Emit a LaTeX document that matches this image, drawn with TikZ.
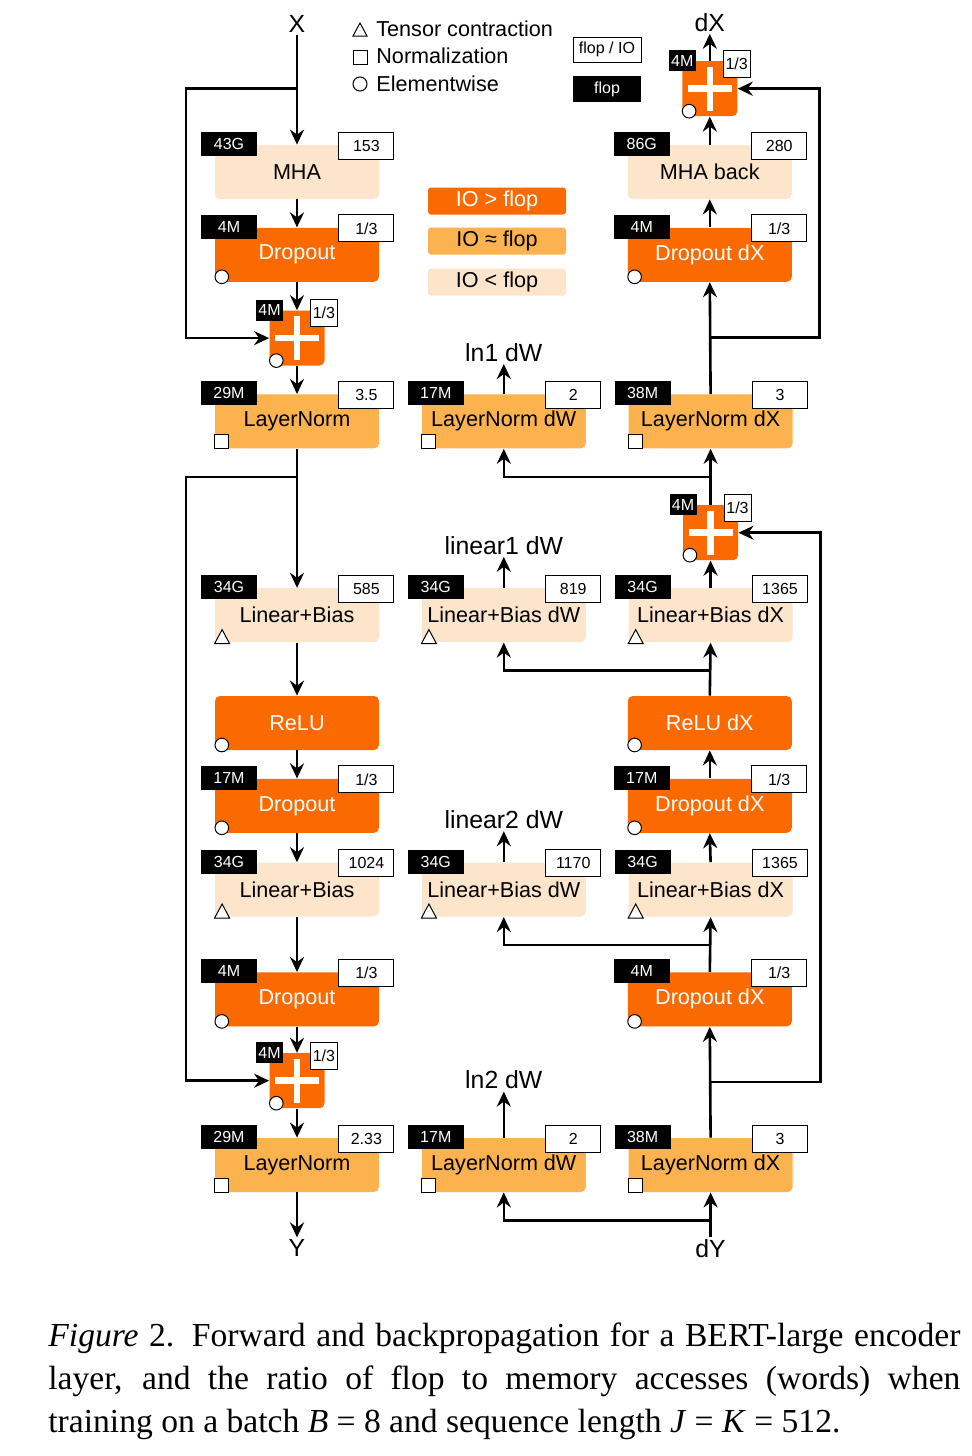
\documentclass[tikz,border=0pt]{standalone}
\usepackage{fontspec}
\setmainfont{Liberation Serif}
\setsansfont{Liberation Sans}
\usetikzlibrary{positioning,arrows.meta}

\definecolor{iohigh}{RGB}{250,106,0}
\definecolor{iomid}{RGB}{253,178,80}
\definecolor{iolow}{RGB}{253,229,204}

\tikzset{
  opbox/.style={minimum width=82pt, minimum height=27pt, inner sep=0pt,
    rounded corners=2.5pt, font=\sffamily\fontsize{10.8}{13}\selectfont},
  hiop/.style={opbox, fill=iohigh, text=white},
  midop/.style={opbox, fill=iomid},
  lowop/.style={opbox, fill=iolow},
  addbox/.style={fill=iohigh, minimum size=27.5pt, inner sep=0pt, rounded corners=2.5pt,
    path picture={
      \draw[white, line width=3.25pt]
        ([xshift=-11pt]path picture bounding box.center) -- ([xshift=11pt]path picture bounding box.center)
        ([yshift=-11pt]path picture bounding box.center) -- ([yshift=11pt]path picture bounding box.center);}},
  flopbox/.style={fill=black, text=white, minimum width=28pt, minimum height=12pt,
    inner sep=0pt, font=\sffamily\fontsize{8}{9}\selectfont},
  ratiobox/.style={draw=black, line width=0.5pt, fill=white, minimum width=27.5pt,
    minimum height=13.5pt, inner sep=0pt, font=\sffamily\fontsize{8}{9}\selectfont},
  head/.style={inner sep=1pt, font=\sffamily\fontsize{12.4}{14}\selectfont},
  legend/.style={inner sep=0pt, font=\sffamily\fontsize{10.8}{13}\selectfont},
  flow/.style={line width=1.3pt, -{Stealth[length=7.5pt, width=7pt, inset=2.5pt]}},
  marker/.style={draw=black, fill=white, line width=0.5pt},
}

% cost labels: flop (black) and flop/IO (white)
\newcommand{\cost}[3]{%
  \node[flopbox, anchor=north west] (#1f) at ([shift={(-7pt,6.5pt)}]#1.north west) {#2};
  \node[ratiobox, anchor=north east] (#1r) at ([shift={(7.5pt,6.5pt)}]#1.north east) {#3};}
\newcommand{\addcost}[1]{%
  \node[flopbox, minimum width=13.5pt, minimum height=10.5pt, anchor=north west] (#1f)
    at ([shift={(-6.75pt,5.5pt)}]#1.north west) {4M};
  \node[ratiobox, minimum width=13.5pt, minimum height=13.5pt, anchor=north east] (#1r)
    at ([shift={(6.5pt,5.5pt)}]#1.north east) {1/3};}
% operator class markers
\newcommand{\elemmark}[1]{\draw[marker] ([shift={(3.6pt,2.7pt)}]#1.south west) circle (3.4pt);}
\newcommand{\normmark}[1]{\draw[marker] (#1.south west) rectangle ++(7pt,7pt);}
\newcommand{\tensmark}[1]{\draw[marker] ([yshift=-0.5pt]#1.south west) -- ++(7.5pt,0pt) -- ++(-3.75pt,7pt) -- cycle;}

\begin{document}
\begin{tikzpicture}[x=0.5pt, y=-0.5pt]
  \useasboundingbox (0,0) rectangle (971,1456);

  % legend
  \node[legend, anchor=base west] (lgten) at (376,36) {Tensor contraction};
  \node[legend, anchor=base west] (lgnorm) at (376,63) {Normalization};
  \node[legend, anchor=base west] (lgelem) at (376,91) {Elementwise};
  \draw[marker] (353,36) -- (367,36) -- (360,23) -- cycle;
  \draw[marker] (353,50) rectangle (367,64);
  \draw[marker] (360,84) circle (3.5pt);
  \node[ratiobox, minimum width=34pt, minimum height=12.5pt] (lgratio) at (607,49.5) {flop / IO};
  \node[flopbox, minimum width=34pt, minimum height=13pt] (lgflop) at (607,89) {flop};
  \node[hiop, minimum width=69pt, minimum height=13.5pt, rounded corners=1.5pt] (lghi) at (497,201) {IO > flop};
  \node[midop, minimum width=69pt, minimum height=13.5pt, rounded corners=1.5pt] (lgmid) at (497,241) {IO ≈ flop};
  \node[lowop, minimum width=69pt, minimum height=13.5pt, rounded corners=1.5pt] (lglow) at (497,282) {IO < flop};

  % forward column
  \node[lowop] (mha) at (297,172) {MHA};
  \node[hiop, below=14pt of mha] (dropA) {Dropout};
  \node[addbox, below=14pt of dropA] (addA) {};
  \node[midop, below=14pt of addA] (lnA) {LayerNorm};
  \node[lowop, below=69.5pt of lnA] (linA) {Linear+Bias};
  \node[hiop, below=26.5pt of linA] (relu) {ReLU};
  \node[hiop, below=14pt of relu] (dropB) {Dropout};
  \node[lowop, below=14.5pt of dropB] (linB) {Linear+Bias};
  \node[hiop, below=27.5pt of linB] (dropC) {Dropout};
  \node[addbox, below=13pt of dropC] (addB) {};
  \node[midop, below=14.5pt of addB] (lnB) {LayerNorm};

  % weight gradients
  \node[midop, right=21pt of lnA] (lnM1) {LayerNorm dW};
  \node[lowop, right=21pt of linA] (linM1) {Linear+Bias dW};
  \node[lowop, right=21pt of linB] (linM2) {Linear+Bias dW};
  \node[midop, right=21pt of lnB] (lnM2) {LayerNorm dW};

  % backward column
  \node[lowop, right=124pt of mha] (mhab) {MHA back};
  \node[hiop, right=124pt of dropA] (dropR1) {Dropout dX};
  \node[midop, right=21pt of lnM1] (lnR1) {LayerNorm dX};
  \node[lowop, right=21pt of linM1] (linR1) {Linear+Bias dX};
  \node[hiop, right=124pt of relu] (reluR) {ReLU dX};
  \node[hiop, right=124pt of dropB] (dropR2) {Dropout dX};
  \node[lowop, right=21pt of linM2] (linR2) {Linear+Bias dX};
  \node[hiop, right=124pt of dropC] (dropR3) {Dropout dX};
  \node[midop, right=21pt of lnM2] (lnR2) {LayerNorm dX};
  \node[addbox, above=14pt of mhab] (addR1) {};
  \node[addbox, below=28pt of lnR1] (addR2) {};

  % inputs and outputs
  \node[head, above=55pt of mha] (xin) {X};
  \node[head, above=13.5pt of addR1] (dxout) {dX};
  \node[head, below=22.5pt of lnB] (yout) {Y};
  \node[head, below=22.5pt of lnR2] (dyin) {dY};
  \node[head, above=15pt of lnM1] (ln1w) {ln1 dW};
  \node[head, above=15.5pt of linM1] (lin1w) {linear1 dW};
  \node[head, above=15.5pt of linM2] (lin2w) {linear2 dW};
  \node[head, above=23pt of lnM2] (ln2w) {ln2 dW};

  % costs
  \cost{mha}{43G}{153}
  \cost{dropA}{4M}{1/3}
  \addcost{addA}
  \cost{lnA}{29M}{3.5}
  \cost{linA}{34G}{585}
  \cost{dropB}{17M}{1/3}
  \cost{linB}{34G}{1024}
  \cost{dropC}{4M}{1/3}
  \addcost{addB}
  \cost{lnB}{29M}{2.33}
  \cost{lnM1}{17M}{2}
  \cost{linM1}{34G}{819}
  \cost{linM2}{34G}{1170}
  \cost{lnM2}{17M}{2}
  \addcost{addR1}
  \cost{mhab}{86G}{280}
  \cost{dropR1}{4M}{1/3}
  \cost{lnR1}{38M}{3}
  \addcost{addR2}
  \cost{linR1}{34G}{1365}
  \cost{dropR2}{17M}{1/3}
  \cost{linR2}{34G}{1365}
  \cost{dropR3}{4M}{1/3}
  \cost{lnR2}{38M}{3}

  % markers
  \foreach \n in {dropA,addA,relu,dropB,dropC,addB,addR1,dropR1,addR2,reluR,dropR2,dropR3}
    {\elemmark{\n}}
  \foreach \n in {lnA,lnB,lnM1,lnM2,lnR1,lnR2}
    {\normmark{\n}}
  \foreach \n in {linA,linB,linM1,linM2,linR1,linR2}
    {\tensmark{\n}}

  % forward flow
  \foreach \a/\b in {xin/mha, mha/dropA, dropA/addA, addA/lnA, lnA/linA, linA/relu,
      relu/dropB, dropB/linB, linB/dropC, dropC/addB, addB/lnB, lnB/yout}
    \draw[flow] (\a.south) -- (\b.north);
  % backward flow
  \foreach \a/\b in {dyin/lnR2, lnR2/dropR3, dropR3/linR2, linR2/dropR2, dropR2/reluR,
      reluR/linR1, linR1/addR2, addR2/lnR1, lnR1/dropR1, dropR1/mhab, mhab/addR1,
      addR1/dxout, lnM1/ln1w, linM1/lin1w, linM2/lin2w, lnM2/ln2w}
    \draw[flow] (\a.north) -- (\b.south);

  % residual branches
  \coordinate (brA) at ([yshift=28pt]mha.north);
  \coordinate (brB) at ([yshift=-14pt]lnA.south);
  \coordinate (brC) at ([yshift=-27.5pt]dropR1.south);
  \coordinate (brD) at ([yshift=-27.5pt]dropR3.south);
  \draw[flow] (brA) -| ([xshift=-41.5pt]addA.west) -- (addA.west);
  \draw[flow] (brB) -| ([xshift=-41.5pt]addB.west) -- (addB.west);
  \draw[flow] (brC) -| ([xshift=41pt]addR1.east) -- (addR1.east);
  \draw[flow] (brD) -| ([xshift=41pt]addR2.east) -- (addR2.east);
  % gradient branches to dW
  \foreach \a/\b in {lnR1/lnM1, linR1/linM1, linR2/linM2, lnR2/lnM2}
    \draw[flow] ([yshift=-14pt]\a.south) -| (\b.south);

  % caption
  \node[anchor=north west, inner sep=0pt, text width=456pt, align=justify,
    font=\rmfamily\fontsize{16.8}{21.5}\selectfont] (caption) at (48,1322)
    {\textit{Figure} 2. Forward and backpropagation for a BERT-large encoder\linebreak
     layer, and the ratio of flop to memory accesses (words) when\linebreak
     training on a batch \textit{B} = 8 and sequence length \textit{J} = \textit{K} = 512.};
\end{tikzpicture}
\end{document}
